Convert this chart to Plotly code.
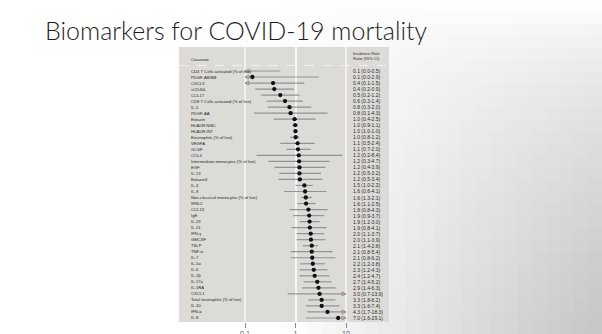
import plotly.graph_objects as go

covariates = [
    "CD4 T Cells activated (% of live)", "PDGF-AB/BB", "CXCL5", "sCD40L", "CCL17",
    "CD8 T Cells activated (% of live)", "IL-5", "PDGF-AA", "Eotaxin", "HLADR NMC",
    "HLADR INT", "Eosinophils (% of live)", "VEGFA", "GCSF", "CCL4",
    "Intermediate monocytes (% of live)", "EGF", "IL-13", "Eotaxin3", "IL-4",
    "IL-9", "Non-classical monocytes (% of live)", "IFNL2", "CCL13", "IgE",
    "IL-23", "IL-21", "IFN-γ", "GMCSF", "TSLP",
    "TNF-α", "IL-7", "IL-1α", "IL-6", "IL-1β",
    "IL-17a", "IL-1RA", "CXCL1", "Total neutrophils (% of live)", "IL-10",
    "IFN-α", "IL-8",
]
irr = [0.08, 0.14, 0.36, 0.38, 0.5, 0.62, 0.76, 0.8, 0.96, 0.99,
       1.0, 1.01, 1.1, 1.12, 1.16, 1.18, 1.2, 1.2, 1.22, 1.5,
       1.55, 1.6, 1.62, 1.8, 1.87, 1.9, 1.92, 2.0, 2.02, 2.1,
       2.1, 2.15, 2.2, 2.3, 2.4, 2.7, 2.85, 3.0, 3.3, 3.3,
       4.3, 7.0]
ci_lo = [0.01, 0.02, 0.06, 0.16, 0.21, 0.27, 0.28, 0.15, 0.37, 0.86,
         0.97, 0.78, 0.5, 0.66, 0.17, 0.29, 0.38, 0.48, 0.46, 1.0,
         0.6, 1.3, 1.1, 0.76, 0.9, 1.2, 0.83, 1.05, 1.05, 1.4,
         0.8, 0.8, 1.25, 1.2, 1.2, 1.45, 1.35, 0.7, 1.8, 1.6,
         1.7, 1.6]
ci_hi = [0.5, 2.9, 1.5, 0.93, 1.2, 1.4, 2.05, 4.3, 2.5, 1.08,
         1.03, 1.2, 2.4, 2.0, 8.4, 4.7, 3.9, 3.2, 3.4, 2.2,
         4.1, 2.1, 2.5, 4.3, 3.7, 3.0, 4.1, 3.7, 3.9, 2.8,
         5.4, 6.2, 3.8, 4.3, 4.7, 5.2, 6.3, 13.9, 6.2, 7.4,
         18.3, 29.1]
x_ticks = [0.1, 1, 10]
x_ticktext = ["0.1", "1", "10"]
header_left = "Covariate"
header_right = "Incidence Rate<br>Ratio (95% CI)"
title_text = "Biomarkers for COVID-19 mortality"

W, H = 602, 334
PL, PR, PT, PB = 245, 346, 47, 322  # plot area in px
XMIN, XMAX = x_ticks[0], x_ticks[-1]
FONT = "Liberation Sans"


def px2x(px):
    return (px - PL) / (PR - PL)


def py2y(py):
    return (PB - py) / (PB - PT)


n = len(covariates)
rows = list(range(n))
row0_px, row_step = 71.0, 6.024
y_top = (PT - row0_px) / row_step
y_bot = (PB - row0_px) / row_step


def ypx2idx(py):
    return (py - row0_px) / row_step


fig = go.Figure()

# whiskers
wx, wy = [], []
for i in rows:
    wx += [ci_lo[i], ci_hi[i], None]
    wy += [i, i, None]
fig.add_trace(go.Scatter(x=wx, y=wy, mode="lines",
                         line=dict(color="#939393", width=1.2),
                         hoverinfo="skip", showlegend=False))

# arrows for truncated CIs
ax, ay, asym = [], [], []
for i in rows:
    if ci_lo[i] < XMIN:
        ax.append(XMIN); ay.append(i); asym.append("arrow-left-open")
    if ci_hi[i] > XMAX:
        ax.append(XMAX); ay.append(i); asym.append("arrow-right-open")
fig.add_trace(go.Scatter(x=ax, y=ay, mode="markers", cliponaxis=False,
                         marker=dict(symbol=asym, size=4, color="#939393",
                                     line=dict(color="#939393", width=1)),
                         hoverinfo="skip", showlegend=False))

# point estimates
fig.add_trace(go.Scatter(x=irr, y=rows, mode="markers",
                         marker=dict(size=4.3, color="#111111"),
                         hoverinfo="skip", showlegend=False))

shapes = []
# slide background vignette
cw, ch = 14, 12
for gx in range(280, W, cw):
    for gy in range(0, H, ch):
        cx, cy = gx + cw / 2, gy + ch / 2
        sx = min(max((cx - 300) / 302, 0), 1) ** 0.9
        sy = min(max((cy - 15) / 319, 0), 1) ** 0.6
        g = int(round(253 - 56 * sx * sy))
        shapes.append(dict(type="rect", xref="paper", yref="paper", layer="below",
                           x0=px2x(gx), x1=px2x(gx + cw + 0.5),
                           y0=py2y(gy + ch + 0.5), y1=py2y(gy),
                           line=dict(width=0), fillcolor=f"rgb({g},{g},{g})"))
# panel
shapes.append(dict(type="rect", xref="paper", yref="paper", layer="below",
                   x0=px2x(179), x1=px2x(389), y0=py2y(PB), y1=py2y(PT),
                   line=dict(width=0), fillcolor="#dcdbd7"))
# separators
for sx_ in (PL, PR):
    shapes.append(dict(type="line", xref="paper", yref="paper", layer="below",
                       x0=px2x(sx_), x1=px2x(sx_), y0=0, y1=1,
                       line=dict(color="#f6f6f4", width=1.6)))
# dashed header line
shapes.append(dict(type="line", xref="paper", yref="y", layer="below",
                   x0=px2x(179), x1=px2x(389), y0=ypx2idx(65.5), y1=ypx2idx(65.5),
                   line=dict(color="#f2f2f0", width=1, dash="dash")))

annotations = []
for i in rows:
    annotations.append(dict(xref="paper", yref="y", x=px2x(189), y=i,
                            text=covariates[i], showarrow=False, xanchor="left",
                            yanchor="middle",
                            font=dict(size=4.2, color="#262626", family=FONT)))
    annotations.append(dict(xref="paper", yref="y", x=px2x(351), y=i,
                            text=f"{irr[i]:.1f} ({ci_lo[i]:.1f}-{ci_hi[i]:.1f})",
                            showarrow=False, xanchor="left", yanchor="middle",
                            font=dict(size=5.0, color="#2a2a2a", family=FONT)))
annotations.append(dict(xref="paper", yref="y", x=px2x(189), y=ypx2idx(59),
                        text=header_left, showarrow=False, xanchor="left",
                        yanchor="middle",
                        font=dict(size=4.2, color="#262626", family=FONT)))
annotations.append(dict(xref="paper", yref="y", x=px2x(351), y=ypx2idx(56),
                        text=header_right, showarrow=False, xanchor="left",
                        yanchor="middle", align="left",
                        font=dict(size=4.0, color="#2a2a2a", family=FONT)))

fig.update_layout(
    width=W, height=H,
    margin=dict(l=PL, r=W - PR, t=PT, b=H - PB, pad=0, autoexpand=False),
    paper_bgcolor="white", plot_bgcolor="rgba(0,0,0,0)",
    showlegend=False,
    title=dict(text=title_text, xref="container", yref="container",
               x=45 / W, xanchor="left", y=1 - 22 / H, yanchor="top",
               font=dict(family="Lato", size=25, color="#1e1e1e", weight=300)),
    xaxis=dict(type="log", range=[-1, 1], tickvals=x_ticks, ticktext=x_ticktext,
               showgrid=True, gridcolor="#f6f6f4", gridwidth=1.6,
               ticks="outside", ticklen=5, tickcolor="#888888", tickwidth=1,
               tickfont=dict(size=7, color="#555555"), showline=False,
               zeroline=False, automargin=False),
    yaxis=dict(range=[y_bot, y_top], showticklabels=False, showgrid=False,
               zeroline=False, showline=False, ticks="", automargin=False),
    shapes=shapes, annotations=annotations,
)

fig.write_html("out.html")
